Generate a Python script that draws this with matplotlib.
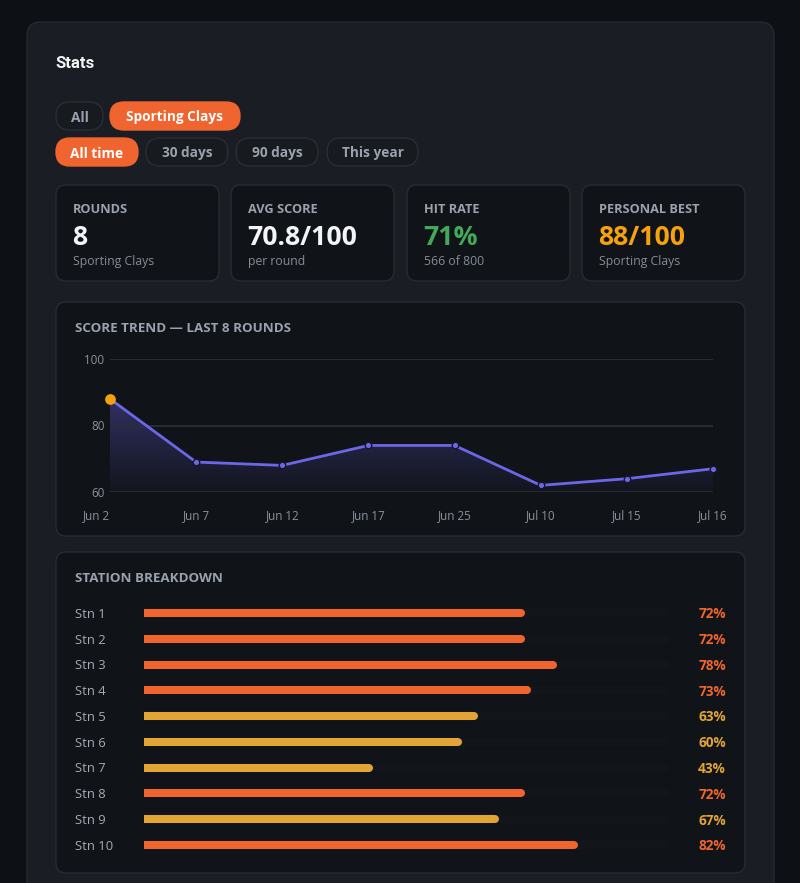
"""Stats dashboard: score trend and station breakdown for sporting clays."""

import matplotlib
matplotlib.use("Agg")
import matplotlib.pyplot as plt
import numpy as np
from matplotlib.patches import FancyBboxPatch

plt.rcParams["font.family"] = ["Open Sans", "DejaVu Sans"]

# ---- data ----
round_dates = ["Jun 2", "Jun 7", "Jun 12", "Jun 17", "Jun 25", "Jul 10", "Jul 15", "Jul 16"]
round_scores = [88, 69, 68, 74, 74, 62, 64, 67]
y_ticks = [60, 80, 100]

stations = ["Stn 1", "Stn 2", "Stn 3", "Stn 4", "Stn 5",
            "Stn 6", "Stn 7", "Stn 8", "Stn 9", "Stn 10"]
station_pct = [72, 72, 78, 73, 63, 60, 43, 72, 67, 82]

card_labels = ["ROUNDS", "AVG SCORE", "HIT RATE", "PERSONAL BEST"]
card_values = ["8", "70.8/100", "71%", "88/100"]
card_subs = ["Sporting Clays", "per round", "566 of 800", "Sporting Clays"]

discipline_pills = ["All", "Sporting Clays"]
period_pills = ["All time", "30 days", "90 days", "This year"]

# ---- colours ----
BG = "#0d1015"
CARD = "#1a1d23"
PANEL = "#101318"
EDGE = "#272b33"
MUTED = "#9aa2ae"
WHITE = "#f3f4f6"
ORANGE = "#f0652f"
YELLOW = "#e2a435"
INDIGO = "#6c66e8"
GOLD = "#f5a20c"
card_value_colors = [WHITE, WHITE, "#43a85a", GOLD]

W, H = 800, 883
fig = plt.figure(figsize=(W / 100, H / 100), dpi=100, facecolor=BG)

# background layer in pixel coordinates
bg = fig.add_axes([0, 0, 1, 1])
bg.set_xlim(0, W)
bg.set_ylim(H, 0)
bg.axis("off")


def box(x, y, w, h, r, fc, ec=EDGE, lw=1.0):
    bg.add_patch(FancyBboxPatch((x, y), w, h, boxstyle=f"round,pad=0,rounding_size={r}",
                                fc=fc, ec=ec, lw=lw))


box(27, 22, 747, 900, 14, CARD, ec="#262a31")
bg.text(55, 64, "Stats", color=WHITE, fontsize=12, fontweight="bold", va="center",
        family=["Roboto", "DejaVu Sans"])

# filter pills
pill_rows = [(116, discipline_pills, [56, 110], [47, 130], 1),
             (152, period_pills, [56, 146, 236, 327], [82, 82, 82, 91], 0)]
for yc, labels, xs, ws, active in pill_rows:
    for i, (lab, x, w) in enumerate(zip(labels, xs, ws)):
        on = i == active
        box(x, yc - 14, w, 28, 14, ORANGE if on else "#171a1f",
            ec=ORANGE if on else "#2a2e35")
        bg.text(x + w / 2, yc + 1.5, lab, color="white" if on else MUTED, fontsize=9.8,
                fontweight="bold", ha="center", va="center")

# stat cards
for i, x in enumerate([56, 231, 407, 582]):
    box(x, 185, 163, 96, 10, PANEL)
    bg.text(x + 17, 209.5, card_labels[i], color=MUTED, fontsize=9.2, fontweight="bold",
            va="center")
    bg.text(x + 16, 238, card_values[i], color=card_value_colors[i], fontsize=19.2,
            fontweight="bold", va="center")
    bg.text(x + 17, 261.5, card_subs[i], color="#858d99", fontsize=8.8, va="center")

# ---- score trend panel ----
box(56, 302, 689, 234, 10, PANEL)
bg.text(75, 328.5, "SCORE TREND — LAST 8 ROUNDS", color=MUTED, fontsize=9.6,
        fontweight="bold", va="center")

px0, px1, py_top, py_bot = 110, 713, 359, 492
ax = fig.add_axes([px0 / W, 1 - py_bot / H, (px1 - px0) / W, (py_bot - py_top) / H])
ax.set_facecolor("none")
x = np.arange(len(round_scores))
ax.set_xlim(0, len(round_scores) - 1)
ax.set_ylim(60, 100)
for s in ax.spines.values():
    s.set_visible(False)
ax.set_yticks(y_ticks)
ax.grid(axis="y", color="#2a2e35", lw=1.3)
ax.tick_params(axis="y", length=0, pad=4, labelsize=8.4, labelcolor="#8a929e")
ax.set_xticks(x, round_dates)
ax.tick_params(axis="x", length=0, pad=12, labelsize=8.4, labelcolor="#8a929e")
ax.get_xticklabels()[0].set_horizontalalignment("right")

# gradient fill under the line
poly = ax.fill_between(x, round_scores, 60, color="none", lw=0)
grad = np.linspace(0.38, 0.03, 256).reshape(-1, 1)
rgba = np.zeros((256, 1, 4))
rgba[..., :3] = matplotlib.colors.to_rgb(INDIGO)
rgba[..., 3] = grad
img = ax.imshow(rgba, extent=[0, len(x) - 1, 60, 90], origin="upper", aspect="auto",
                zorder=1)
img.set_clip_path(poly.get_paths()[0], transform=ax.transData)
ax.set_ylim(60, 100)

ax.plot(x, round_scores, color=INDIGO, lw=2, zorder=3, clip_on=False)
ax.scatter(x[1:], round_scores[1:], s=22, color=INDIGO, edgecolor="#15172a", lw=1,
           zorder=4, clip_on=False)
ax.scatter(x[:1], round_scores[:1], s=60, color=GOLD, edgecolor=GOLD, lw=0, zorder=5,
           clip_on=False)

# ---- station breakdown panel ----
box(56, 552, 689, 321, 10, PANEL)
bg.text(75, 578.5, "STATION BREAKDOWN", color=MUTED, fontsize=9.6, fontweight="bold",
        va="center")

bx0, bx1 = 144, 668
row0, row1 = 613, 845
step = (row1 - row0) / (len(stations) - 1)
top, bot = row0 - step / 2, row1 + step / 2
bx = fig.add_axes([bx0 / W, 1 - bot / H, (bx1 - bx0) / W, (bot - top) / H])
bx.axis("off")
bx.set_xlim(0, 100)
bx.set_ylim(len(stations) - 0.5, -0.5)
rows = np.arange(len(stations))
bar_colors = [ORANGE if v >= 70 else YELLOW for v in station_pct]
bx.hlines(rows, 0, 100, color="#12151a", lw=5.8, capstyle="round")
bx.hlines(rows, 0, station_pct, color=bar_colors, lw=5.8, capstyle="round")
tr = bx.get_yaxis_transform()
for i, (name, v, c) in enumerate(zip(stations, station_pct, bar_colors)):
    bx.text((75 - bx0) / (bx1 - bx0), i + 0.05, name, transform=tr, color="#a3abb6",
            fontsize=9.4, va="center", ha="left")
    bx.text((726 - bx0) / (bx1 - bx0), i + 0.05, f"{v}%", transform=tr, color=c,
            fontsize=9.8, fontweight="bold", va="center", ha="right")

fig.savefig("out.png", dpi=100, facecolor=BG)
